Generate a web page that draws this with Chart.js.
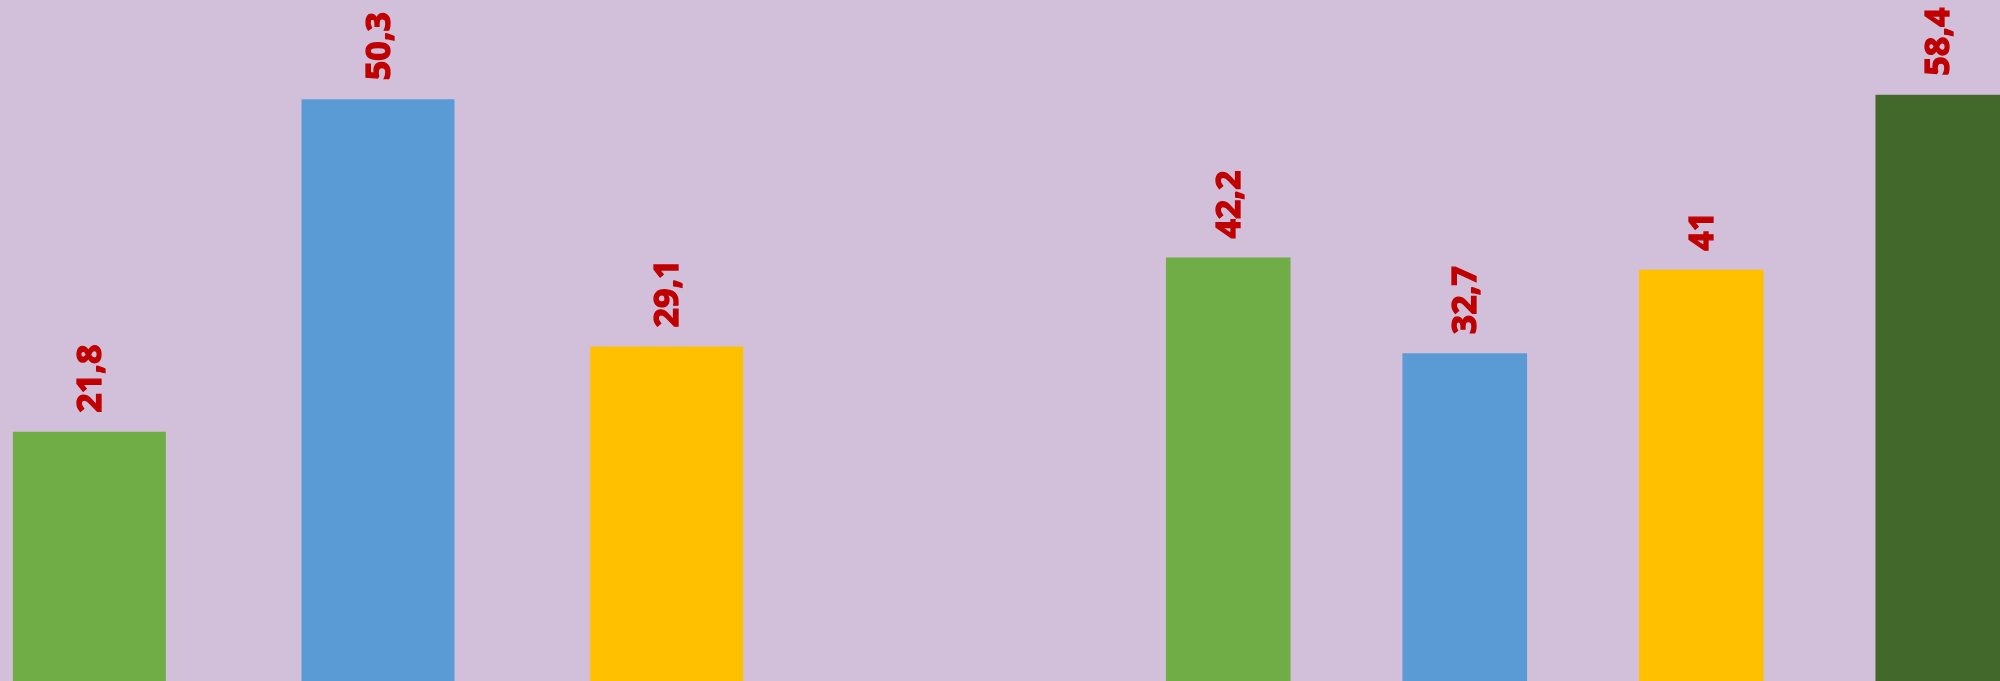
<!DOCTYPE html>
<html>
<head>
<meta charset="utf-8">
<script src="https://cdn.jsdelivr.net/npm/chart.js@4/dist/chart.umd.min.js"></script>
<style>
  html, body { margin: 0; padding: 0; }
  body { width: 2000px; height: 681px; overflow: hidden; position: relative; background: #D2C0DA; }
  .box { position: absolute; }
  #leftBox { left: -55px; top: -14px; width: 866px; height: 700px; }
  #rightBox { left: 1110px; top: -22px; width: 946px; height: 704px; }
</style>
</head>
<body>
<div class="box" id="leftBox"><canvas id="leftChart"></canvas></div>
<div class="box" id="rightBox"><canvas id="rightChart"></canvas></div>
<script>
const leftCategories = ['1', '2', '3'];
const leftValues = [21.8, 50.3, 29.1];
const rightCategories = ['1', '2', '3', '4'];
const rightValues = [42.2, 32.7, 41, 58.4];

const leftColors = ['#70AD47', '#5B9BD5', '#FFC000'];
const rightColors = ['#70AD47', '#5B9BD5', '#FFC000', '#43682B'];

// draws the rotated red value over each bar
const valueLabels = {
  id: 'valueLabels',
  afterDatasetsDraw(chart) {
    const ctx = chart.ctx;
    const meta = chart.getDatasetMeta(0);
    const values = chart.data.datasets[0].data;
    ctx.save();
    ctx.fillStyle = '#C00000';
    ctx.strokeStyle = '#C00000';
    ctx.lineWidth = 1.3;
    ctx.font = 'bold 34px "Open Sans"';
    ctx.textAlign = 'left';
    ctx.textBaseline = 'middle';
    meta.data.forEach((bar, i) => {
      const txt = String(values[i]).replace('.', ',');
      ctx.save();
      ctx.translate(bar.x + 2, bar.y - 19);
      ctx.rotate(-Math.PI / 2);
      ctx.fillText(txt, 0, 0);
      ctx.strokeText(txt, 0, 0);
      ctx.restore();
    });
    ctx.restore();
  }
};

function createBarChart(id, labels, values, colors, maxY, barPct) {
  const ctx = document.getElementById(id).getContext('2d');
  return new Chart(ctx, {
    type: 'bar',
    data: {
      labels: labels,
      datasets: [
        {
          data: values,
          backgroundColor: colors,
          borderWidth: 0,
          categoryPercentage: 1,
          barPercentage: barPct,
        },
      ],
    },
    options: {
      responsive: true,
      maintainAspectRatio: false,
      animation: false,
      layout: { padding: 0 },
      plugins: {
        legend: { display: false },
        tooltip: { enabled: false },
      },
      scales: {
        x: { display: false },
        y: { display: false, min: 0, max: maxY },
      },
    },
    plugins: [valueLabels],
  });
}

createBarChart('leftChart', leftCategories, leftValues, leftColors, 60, 0.53);
createBarChart('rightChart', rightCategories, rightValues, rightColors, 70, 0.527);
</script>
</body>
</html>
